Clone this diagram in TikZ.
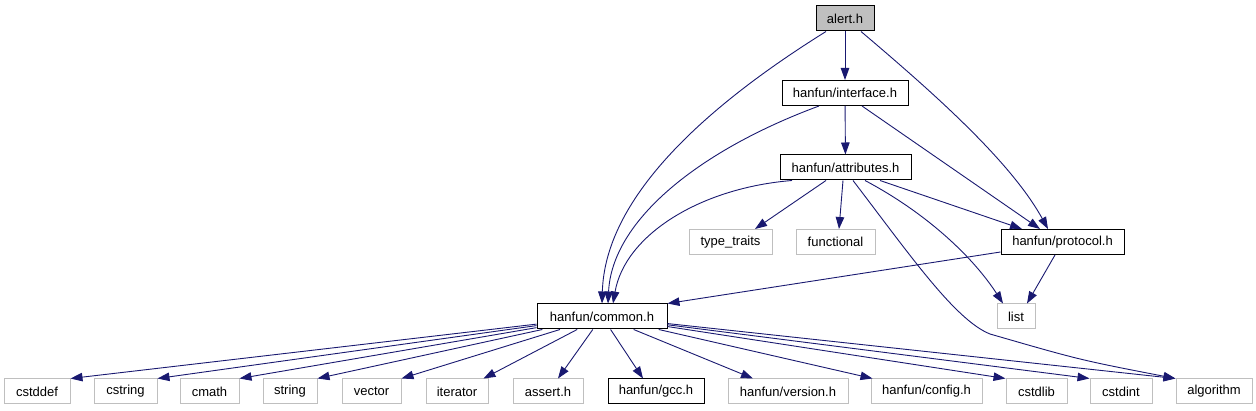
\documentclass[tikz,border=0pt]{standalone}
\usepackage{fontspec}
\setmainfont{Liberation Sans}
\usetikzlibrary{arrows.meta}
\definecolor{edgec}{HTML}{191970}
\definecolor{grayb}{HTML}{BFBFBF}
\begin{document}
\begin{tikzpicture}[x=1pt,y=-1pt,
  font=\fontsize{13}{15}\selectfont,
  docbox/.style={draw=black, line width=1pt, minimum height=25pt, inner sep=0pt},
  extbox/.style={draw=grayb, line width=1pt, minimum height=25pt, inner sep=0pt},
  dep/.style={draw=edgec, line width=0.9pt, -{Triangle[length=12pt,width=8.5pt]}}]
\useasboundingbox (0,0) rectangle (1256,411);
% nodes
\node[docbox, fill=grayb, minimum width=58pt] (alert) at (845,18.5) {alert.h};
\node[docbox, minimum width=126pt] (interface) at (845,93) {hanfun/interface.h};
\node[docbox, minimum width=131pt] (attributes) at (845.5,167.5) {hanfun/attributes.h};
\node[extbox, minimum width=83pt] (typetraits) at (730.5,242) {type\_traits};
\node[extbox, minimum width=79pt] (functional) at (835.5,242) {functional};
\node[docbox, minimum width=123pt] (protocol) at (1062.5,242) {hanfun/protocol.h};
\node[extbox, minimum width=38pt] (list) at (1016,316.5) {list};
\node[docbox, minimum width=130pt] (common) at (602,316.5) {hanfun/common.h};
\node[extbox, minimum width=66pt] (cstddef) at (37,391.5) {cstddef};
\node[extbox, minimum width=63pt] (cstring) at (125.5,391.5) {cstring};
\node[extbox, minimum width=59pt] (cmath) at (209.5,391.5) {cmath};
\node[extbox, minimum width=54pt] (string) at (290,391.5) {string};
\node[extbox, minimum width=59pt] (vector) at (371.5,391.5) {vector};
\node[extbox, minimum width=62pt] (iterator) at (457,391.5) {iterator};
\node[extbox, minimum width=70pt] (assert) at (548,391.5) {assert.h};
\node[docbox, minimum width=96pt] (gcc) at (656,391.5) {hanfun/gcc.h};
\node[extbox, minimum width=120pt] (version) at (788,391.5) {hanfun/version.h};
\node[extbox, minimum width=111pt] (config) at (926.5,391.5) {hanfun/config.h};
\node[extbox, minimum width=61pt] (cstdlib) at (1036.5,391.5) {cstdlib};
\node[extbox, minimum width=62pt] (cstdint) at (1121,391.5) {cstdint};
\node[extbox, minimum width=76pt] (algorithm) at (1214,391.5) {algorithm};
% edges from alert.h
\draw[dep] (alert) -- (interface);
\draw[dep] ([xshift=-19pt]alert.south) .. controls (700,110) and (605,200) .. (common.north);
\draw[dep] ([xshift=16pt]alert.south) .. controls (930,90) and (1010,160) .. ([xshift=-14.5pt]protocol.north);
% edges from interface.h
\draw[dep] (interface) -- (attributes);
\draw[dep] ([xshift=-26pt]interface.south) .. controls (700,150) and (612,220) .. ([xshift=6pt]common.north);
\draw[dep] ([xshift=17pt]interface.south) -- ([xshift=-22.5pt]protocol.north);
% edges from attributes.h
\draw[dep] ([xshift=-53.5pt]attributes.south) .. controls (700,188) and (625,235) .. ([xshift=11pt]common.north);
\draw[dep] ([xshift=-19.5pt]attributes.south) -- ([xshift=24.5pt]typetraits.north);
\draw[dep] ([xshift=-2.5pt]attributes.south) -- ([xshift=3.5pt]functional.north);
\draw[dep] ([xshift=34.5pt]attributes.south) -- ([xshift=-40.5pt]protocol.north);
\draw[dep] ([xshift=19.5pt]attributes.south) .. controls (930,215) and (975,260) .. ([xshift=-13pt]list.north);
\draw[dep] ([xshift=7.5pt]attributes.south) .. controls (910,255) and (955,320) .. (990,334) .. controls (1080,360) .. (algorithm.north west);
% edges from protocol.h
\draw[dep] ([yshift=-10pt]protocol.west) -- (common.north east);
\draw[dep] ([xshift=-7.5pt]protocol.south) -- ([xshift=11pt]list.north);
% edges from common.h
\draw[dep] (common) -- (cstddef.north east);
\draw[dep] (common) -- (cstring.north east);
\draw[dep] (common) -- (cmath.north east);
\draw[dep] (common) -- (string.north east);
\draw[dep] (common) -- (vector.north east);
\draw[dep] (common) -- ([xshift=-5pt]iterator.north east);
\draw[dep] (common) -- ([xshift=10pt]assert.north);
\draw[dep] (common) -- ([xshift=-13pt]gcc.north);
\draw[dep] (common) -- ([xshift=-35pt]version.north);
\draw[dep] (common) -- ([xshift=2pt]config.north west);
\draw[dep] (common) -- (cstdlib.north west);
\draw[dep] (common) -- (cstdint.north west);
\draw[dep] (common) -- (algorithm.north west);
\end{tikzpicture}
\end{document}
